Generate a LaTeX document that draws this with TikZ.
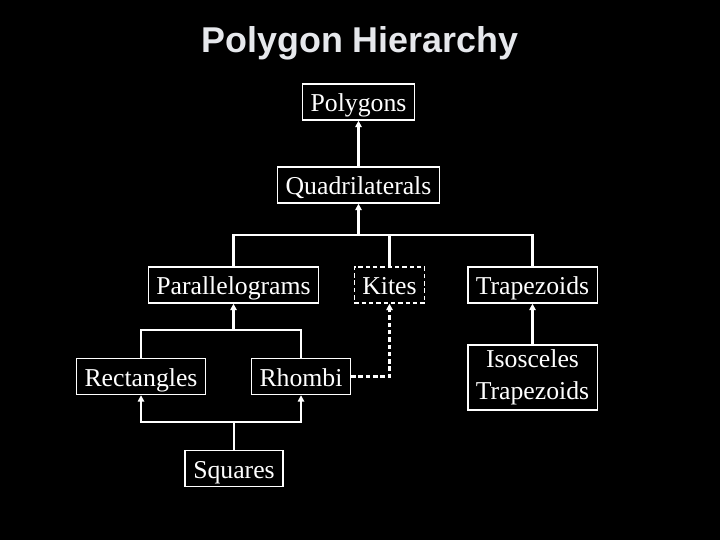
\documentclass[tikz,border=0pt]{standalone}
\usepackage{fontspec}
\setmainfont{Liberation Serif}
\setsansfont{Liberation Sans}
\usetikzlibrary{arrows.meta,positioning,calc}
\definecolor{titlegray}{RGB}{230,232,236}

\tikzset{
  shapebox/.style={draw=white, line width=1pt, fill=black, text=white, font=\fontsize{18.3}{21}\selectfont,
    inner xsep=0.2cm, inner ysep=0cm, minimum height=0.9cm, text height=16pt, text depth=2pt, align=center},
  link/.style={draw=white, line width=1.5pt},
  arr/.style={link, -{Triangle[length=4.5pt,width=4.5pt]}},
  dashlink/.style={link, dash pattern=on 3.2pt off 2pt}
}

\begin{document}
\begin{tikzpicture}[x=0.025cm, y=-0.025cm]
  \fill[black] (0,0) rectangle (720,540);
  \useasboundingbox (0,0) rectangle (720,540);

  \node[text=titlegray, font=\sffamily\bfseries\fontsize{25.5}{28}\selectfont] (title) at (360,43) {Polygon Hierarchy};

  \node[shapebox] (poly) at (358.5,102) {Polygons};
  \node[shapebox] (quad) at (358.5,185) {Quadrilaterals};
  \node[shapebox] (para) at (233.5,285) {Parallelograms};
  \node[shapebox, dashlink, line width=1pt] (kites) at (389.5,285) {Kites};
  \node[shapebox, minimum width=3.2cm] (trap) at (532.5,285) {Trapezoids};
  \node[shapebox] (rect) at (141,376.5) {Rectangles};
  \node[shapebox, minimum width=2.45cm] (rhombi) at (301,376.5) {Rhombi};
  \node[shapebox, minimum width=3.2cm, minimum height=1.62cm, text height=, text depth=,
    font=\fontsize{18.3}{22.5}\selectfont] (iso) at (532.5,377.5) {Isosceles\\Trapezoids};
  \node[shapebox, minimum width=2.45cm] (squares) at (234,468.5) {Squares};

  \coordinate (qbus) at (358.5,235);
  \coordinate (pbus) at (233.5,330);
  \coordinate (sbus) at (234,422);

  % quadrilaterals branch
  \draw[arr] (quad) -- (poly);
  \draw[arr] (para.north) |- (qbus) -- (quad.south);
  \draw[link] (trap.north) |- (qbus);
  \draw[link] (kites.north) -- (kites.north |- qbus);

  % parallelograms branch
  \draw[arr] (rect.north) |- (pbus) -- (para.south);
  \draw[link] (rhombi.north) |- (pbus);

  % squares
  \draw[arr] (squares.north) -- (sbus) -| (rect.south);
  \draw[arr] (sbus) -| (rhombi.south);

  % rhombi are kites
  \draw[arr, dashlink] (rhombi.east) -| (kites.south);

  \draw[arr] (iso) -- (trap);
\end{tikzpicture}
\end{document}
